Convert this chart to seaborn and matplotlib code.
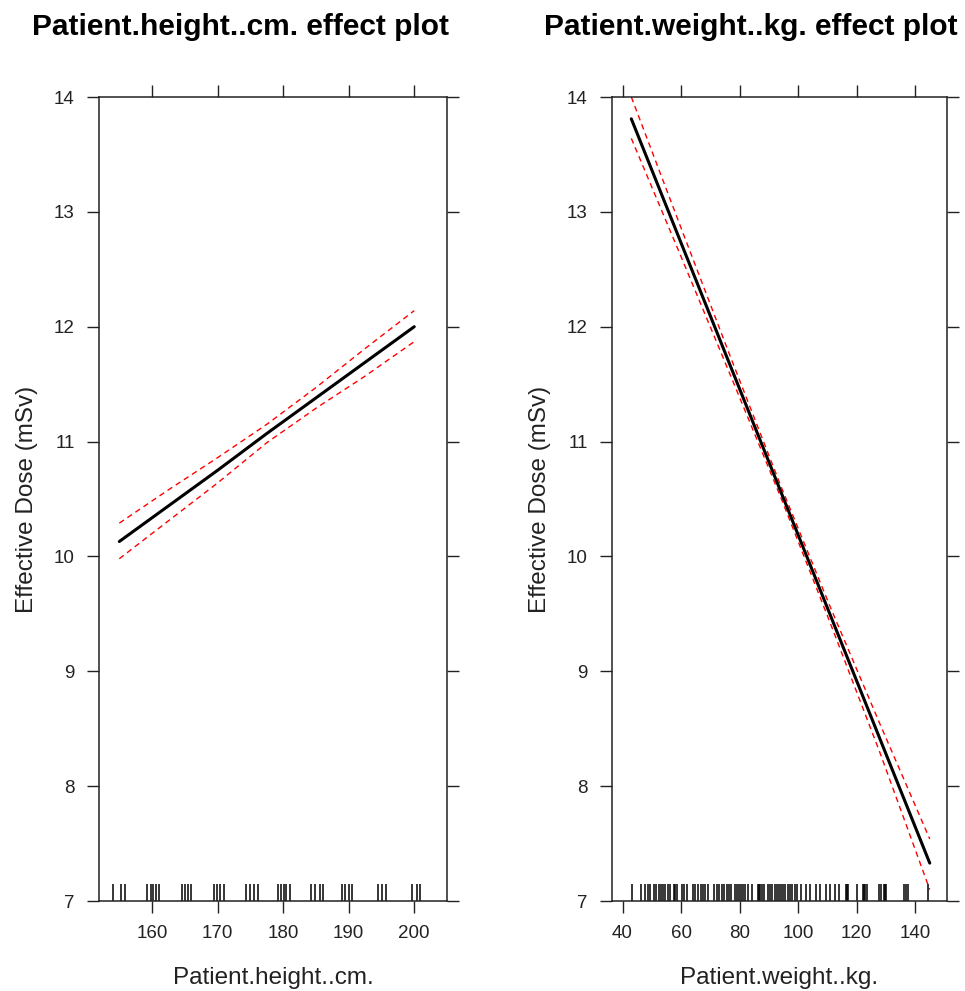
import matplotlib
matplotlib.use("Agg")
import matplotlib.pyplot as plt
import seaborn as sns
import numpy as np
import pandas as pd

# ---- data ----
height_x = [155, 162.5, 170, 177.5, 185, 192.5, 200]
height_fit = [10.13, 10.44, 10.75, 11.07, 11.38, 11.69, 12.00]
height_upper = [10.29, 10.58, 10.86, 11.15, 11.47, 11.81, 12.14]
height_lower = [9.98, 10.31, 10.64, 10.99, 11.29, 11.57, 11.87]
height_rug = [154.0, 155.3, 155.8, 159.3, 159.8, 160.2, 160.6, 161.0,
              164.5, 165.0, 165.5, 166.0, 169.4, 169.9, 170.4, 171.0,
              174.3, 175.0, 175.6, 176.2, 179.2, 179.7, 180.1, 180.5, 181.0,
              184.3, 184.9, 185.6, 186.1, 189.0, 189.5, 190.0, 190.5,
              194.4, 195.1, 195.7, 199.6, 200.4, 200.9]

weight_x = [43, 60, 77, 94, 111, 128, 145]
weight_fit = [13.81, 12.73, 11.65, 10.57, 9.49, 8.41, 7.33]
weight_upper = [14.00, 12.86, 11.73, 10.62, 9.56, 8.54, 7.54]
weight_lower = [13.64, 12.61, 11.57, 10.52, 9.42, 8.29, 7.10]
weight_rug = [43.2, 46.3, 47.8, 48.6, 49.4, 50.9, 51.6, 52.3, 53.1, 53.9, 54.6,
              55.4, 56.2, 57.7, 58.1, 58.5, 60.3, 61.1, 61.9, 64.2, 64.9, 65.7,
              66.8, 67.6, 68.3, 69.1, 71.4, 72.2, 72.9, 74.0, 74.8, 75.6, 76.3,
              77.1, 78.3, 79.0, 79.7, 80.5, 81.3, 82.0, 82.8, 84.3, 86.2, 86.7,
              87.1, 87.7, 88.2, 89.7, 90.5, 91.2, 92.0, 92.7, 93.4, 94.2, 95.0,
              95.7, 96.5, 97.3, 98.0, 98.8, 99.6, 101.1, 102.8, 104.2, 106.0,
              107.6, 109.4, 111.0, 112.5, 114.0, 116.3, 116.7, 117.1, 120.1,
              122.2, 122.6, 122.9, 123.6, 127.7, 128.5, 129.3, 129.7, 130.0,
              136.1, 136.8, 137.6, 144.4]

height_ticks = [160, 170, 180, 190, 200]
weight_ticks = [40, 60, 80, 100, 120, 140]
y_ticks = [7, 8, 9, 10, 11, 12, 13, 14]

titles = ["Patient.height..cm. effect plot", "Patient.weight..kg. effect plot"]
xlabels = ["Patient.height..cm.", "Patient.weight..kg."]
ylabel = "Effective Dose (mSv)"

sns.set_style("white")
plt.rcParams['font.family'] = ['Liberation Sans', 'DejaVu Sans']

fig = plt.figure(figsize=(9.65, 9.91), dpi=100)
ax1 = fig.add_axes([99/965, 1-901/991, 348/965, 804/991])
ax2 = fig.add_axes([612/965, 1-901/991, 335/965, 804/991])

panels = [
    (ax1, height_x, height_fit, height_upper, height_lower, height_rug,
     height_ticks, (151.9, 205.0)),
    (ax2, weight_x, weight_fit, weight_upper, weight_lower, weight_rug,
     weight_ticks, (36.4, 150.9)),
]

for i, (ax, x, fit, up, lo, rug, xt, xlim) in enumerate(panels):
    df = pd.DataFrame({"x": x, "fit": fit, "upper": up, "lower": lo})
    sns.lineplot(data=df, x="x", y="upper", ax=ax, color="red",
                 linewidth=1.0, linestyle=(0, (4, 3)))
    sns.lineplot(data=df, x="x", y="lower", ax=ax, color="red",
                 linewidth=1.0, linestyle=(0, (4, 3)))
    sns.lineplot(data=df, x="x", y="fit", ax=ax, color="black",
                 linewidth=2.2)
    sns.rugplot(x=rug, ax=ax, height=0.021, color="black", linewidth=1.1,
                expand_margins=False)
    ax.set_xlim(*xlim)
    ax.set_ylim(7, 14)
    ax.set_xticks(xt)
    ax.set_yticks(y_ticks)
    ax.tick_params(axis="both", which="both", direction="out", length=8.6,
                   width=1.0, color="#222222", labelsize=13.5, labelcolor="#222222",
                   top=True, right=True, bottom=True, left=True,
                   labeltop=False, labelright=False, pad=9)
    for s in ax.spines.values():
        s.set_visible(True)
        s.set_color("#222222")
        s.set_linewidth(1.1)
    ax.set_xlabel(xlabels[i], fontsize=17.5, color="#222222", labelpad=18)
    ax.set_ylabel(ylabel, fontsize=17.5, color="#222222", labelpad=11)

fig.text(240/965, 1-27/991, titles[0], ha="center", va="center",
         fontsize=21.5, fontweight="bold", color="black")
fig.text(751/965, 1-27/991, titles[1], ha="center", va="center",
         fontsize=21.5, fontweight="bold", color="black")

fig.savefig("out.png", dpi=100)
